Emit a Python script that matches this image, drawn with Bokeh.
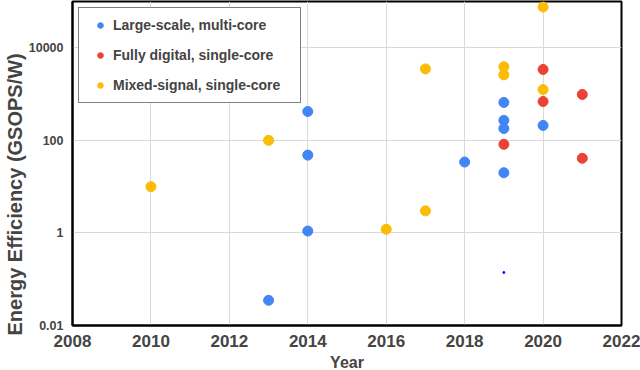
from bokeh.plotting import figure
from bokeh.models import FixedTicker, Range1d, Legend, LegendItem, GlobalInlineStyleSheet, Title
from bokeh.embed import file_html
from bokeh.resources import INLINE

# Data
large_year = [2013, 2014, 2014, 2014, 2018, 2019, 2019, 2019, 2019, 2020]
large_eff = [0.035, 1.1, 48, 420, 34, 20, 660, 270, 180, 210]

digital_year = [2019, 2020, 2020, 2021, 2021]
digital_eff = [82, 3400, 690, 980, 41]

mixed_year = [2010, 2013, 2016, 2017, 2017, 2019, 2019, 2020, 2020]
mixed_eff = [10, 100, 1.2, 3.0, 3500, 3900, 2600, 76000, 1250]

stray_year = [2019]
stray_eff = [0.14]

y_ticks = [0.01, 1, 100, 10000]
y_tick_labels = ["0.01", "1", "100", "10000"]
x_ticks = [2008, 2010, 2012, 2014, 2016, 2018, 2020, 2022]

FONT = "Liberation Sans"
TXT = "#444444"

p = figure(width=640, height=375, y_axis_type="log", output_backend="svg",
           toolbar_location=None, x_range=Range1d(2008, 2022),
           y_range=Range1d(0.01, 1e5),
           min_border_left=72, min_border_right=19, min_border_top=1,
           min_border_bottom=50)
p.stylesheets = [GlobalInlineStyleSheet(css="html, body { margin: 0 !important; padding: 0 !important; overflow: hidden; }")]

r1 = p.scatter(large_year, large_eff, size=10, color="#4285F4")
r2 = p.scatter(digital_year, digital_eff, size=10, color="#EA4335")
r3 = p.scatter(mixed_year, mixed_eff, size=10, color="#FBBC04")
p.scatter(stray_year, stray_eff, size=2, color="#0000FF")

p.outline_line_color = "black"
p.outline_line_width = 2

p.xaxis.ticker = FixedTicker(ticks=x_ticks)
p.yaxis.ticker = FixedTicker(ticks=y_ticks)
p.yaxis.major_label_overrides = {t: l for t, l in zip(y_ticks, y_tick_labels)}

for ax in (p.xaxis[0], p.yaxis[0]):
    ax.axis_line_color = "black"
    ax.axis_line_width = 2
    ax.major_tick_line_color = None
    ax.minor_tick_line_color = None
    ax.major_tick_in = 0
    ax.major_tick_out = 0
    ax.minor_tick_in = 0
    ax.minor_tick_out = 0
    ax.major_label_text_font = FONT
    ax.major_label_text_font_style = "bold"
    ax.major_label_text_color = TXT
    ax.axis_label_text_font = FONT
    ax.axis_label_text_font_style = "bold"
    ax.axis_label_text_color = TXT

p.xaxis.major_label_text_font_size = "17px"
p.yaxis.major_label_text_font_size = "12.5px"
p.xaxis.major_label_standoff = 9
p.yaxis.major_label_standoff = 9
p.xaxis.axis_label = "Year"
p.xaxis.axis_label_text_font_size = "16px"
p.xaxis.axis_label_standoff = 4

ylabel = Title(text="Energy Efficiency (GSOPS/W)", align="left", offset=-10,
               text_font=FONT, text_font_style="bold", text_color=TXT,
               text_font_size="20px", standoff=0)
p.add_layout(ylabel, "left")

p.grid.grid_line_color = "#d9d9d9"
p.grid.grid_line_width = 1
p.ygrid.minor_grid_line_color = None

legend = Legend(items=[
    LegendItem(label="Large-scale, multi-core", renderers=[r1]),
    LegendItem(label="Fully digital, single-core", renderers=[r2]),
    LegendItem(label="Mixed-signal, single-core", renderers=[r3]),
], location="top_left")
legend.margin = 6
legend.padding = 9
legend.spacing = 14
legend.label_height = 14
legend.glyph_height = 14
legend.glyph_width = 24
legend.label_width = 178
legend.label_standoff = 1
legend.border_line_color = "black"
legend.border_line_width = 1.5
legend.background_fill_alpha = 1
legend.label_text_font = FONT
legend.label_text_font_style = "bold"
legend.label_text_font_size = "14px"
legend.label_text_color = TXT
p.add_layout(legend)

open("out.html", "w").write(file_html(p, INLINE))
